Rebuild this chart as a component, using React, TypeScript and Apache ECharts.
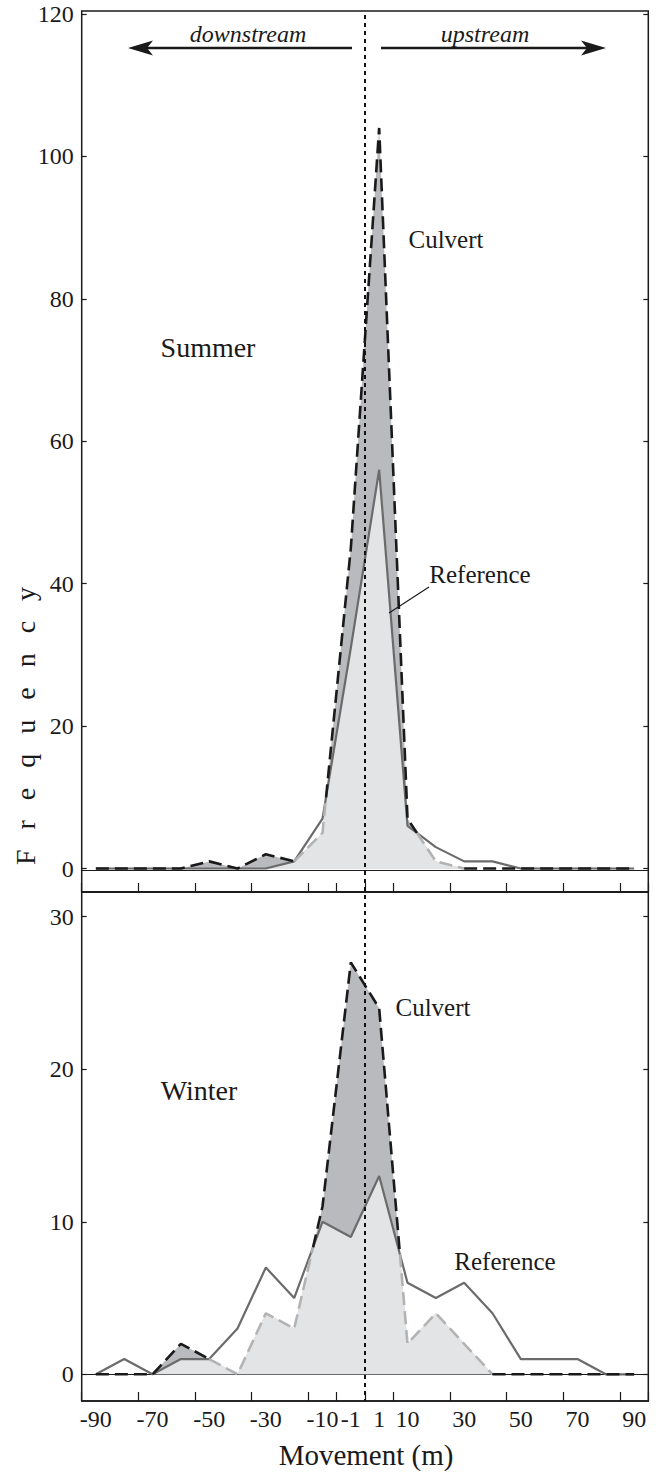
import React, { useEffect, useRef } from "react";
import * as echarts from "echarts";

// ---------- data ----------
const categories = ["-90", "-80", "-70", "-60", "-50", "-40", "-30", "-20", "-10", "-1", "1", "10", "20", "30", "40", "50", "60", "70", "80", "90"];
const shownLabels = ["-90", "-70", "-50", "-30", "-10", "-1", "1", "10", "30", "50", "70", "90"];
const summerCulvert = [0, 0, 0, 0, 1, 0, 2, 1, 5, 45, 104, 7, 1, 0, 0, 0, 0, 0, 0, 0];
const summerReference = [0, 0, 0, 0, 0, 0, 0, 1, 7, 31, 56, 6, 3, 1, 1, 0, 0, 0, 0, 0];
const winterCulvert = [0, 0, 0, 2, 1, 0, 4, 3, 11, 27, 24, 2, 4, 2, 0, 0, 0, 0, 0, 0];
const winterReference = [0, 1, 0, 1, 1, 3, 7, 5, 10, 9, 13, 6, 5, 6, 4, 1, 1, 1, 0, 0];
const summerYMax = 120;
const summerYStep = 20;
const winterYMax = 30;
const winterYStep = 10;

// ---------- layout / style ----------
const FONT = "'Liberation Serif', 'DejaVu Serif', serif";
const INK = "#1a1a1a";
const DARK = "#b9babd";
const LIGHT = "#e3e4e6";
const REF_LINE = "#6b6b6b";
const CULV_GRAY = "#b3b3b3";
const DASH = [13, 6];

const L = 81.7;
const R = 648.3;
const W = R - L;
const topFrameTop = 11;
const topY120 = 14;
const topY0 = 868.5;
const midFrame = 892;
const botY30 = 916.7;
const botY0 = 1374.3;
const botFrame = 1401;

type Pt = { x: number; c: number; r: number };

function buildPoints(c: number[], r: number[]): Pt[] {
  const pts: Pt[] = [];
  for (let i = 0; i < c.length; i++) {
    pts.push({ x: i + 0.5, c: c[i], r: r[i] });
    if (i < c.length - 1) {
      const d0 = c[i] - r[i];
      const d1 = c[i + 1] - r[i + 1];
      if (d0 * d1 < 0) {
        const t = d0 / (d0 - d1);
        pts.push({
          x: i + 0.5 + t,
          c: c[i] + t * (c[i + 1] - c[i]),
          r: r[i] + t * (r[i + 1] - r[i]),
        });
      }
    }
  }
  return pts;
}

function segmentLine(pts: Pt[], wantGray: boolean) {
  const out: any[] = [];
  let last = -2;
  for (let k = 0; k < pts.length - 1; k++) {
    const p = pts[k];
    const q = pts[k + 1];
    const cm = (p.c + q.c) / 2;
    const rm = (p.r + q.r) / 2;
    const isGray = cm < rm - 1e-9 && cm > 1e-9;
    if (isGray !== wantGray) continue;
    if (last !== k - 1) {
      if (out.length) out.push([p.x, null]);
      out.push([p.x, p.c]);
    }
    out.push([q.x, q.c]);
    last = k;
  }
  return out;
}

function panelSeries(c: number[], r: number[], xi: number, yi: number) {
  const pts = buildPoints(c, r);
  const base = { type: "line", xAxisIndex: xi, yAxisIndex: yi, symbol: "none", silent: true, clip: false };
  return [
    { ...base, data: pts.map((p) => [p.x, p.c]), lineStyle: { width: 0 }, areaStyle: { color: DARK, opacity: 1 } },
    { ...base, data: pts.map((p) => [p.x, Math.min(p.c, p.r)]), lineStyle: { width: 0 }, areaStyle: { color: LIGHT, opacity: 1 } },
    { ...base, data: pts.map((p) => [p.x, p.r]), lineStyle: { color: REF_LINE, width: 2.2 } },
    { ...base, data: segmentLine(pts, true), connectNulls: false, lineStyle: { color: CULV_GRAY, width: 2.6, type: DASH } },
    { ...base, data: segmentLine(pts, false), connectNulls: false, lineStyle: { color: INK, width: 2.6, type: DASH } },
  ];
}

function xAxesFor(grid: number, zeroOffset: number, frameOffset: number, labels: boolean) {
  return [
    { type: "value", gridIndex: grid, min: 0, max: categories.length, show: false, position: "bottom" },
    {
      type: "category", gridIndex: grid, data: categories, position: "bottom", offset: zeroOffset,
      axisLine: { show: true, onZero: false, lineStyle: { color: INK, width: 1.2 } },
      axisTick: { show: false }, axisLabel: { show: false }, splitLine: { show: false },
    },
    {
      type: "category", gridIndex: grid, data: categories, position: "bottom", offset: frameOffset,
      axisLine: { show: true, onZero: false, lineStyle: { color: INK, width: 1.5 } },
      axisTick: { show: true, inside: true, length: 9, lineStyle: { color: INK, width: 1.2 } },
      axisLabel: {
        show: labels,
        interval: (_i: number, v: string) => shownLabels.includes(v),
        fontFamily: FONT, fontSize: 24, color: INK, margin: 6,
      },
      splitLine: { show: false },
    },
  ];
}

function yAxesFor(grid: number, max: number, step: number) {
  const common = {
    type: "value", gridIndex: grid, min: 0, max, interval: step,
    axisLine: { show: false }, splitLine: { show: false },
    axisTick: { show: true, inside: true, length: 5, lineStyle: { color: INK, width: 1.2 } },
  };
  return [
    { ...common, position: "left", axisLabel: { fontFamily: FONT, fontSize: 24, color: INK, margin: 8 } },
    { ...common, position: "right", axisLabel: { show: false } },
  ];
}

function txt(text: string, x: number, y: number, size: number, extra: any = {}) {
  return {
    type: "text", x, y, z: 100, silent: true,
    style: {
      text, fontFamily: FONT, fontSize: size, fill: INK,
      textAlign: "center", textVerticalAlign: "middle", align: "center", verticalAlign: "middle",
      ...extra,
    },
  };
}

function arrowHead(tipX: number, y: number, dir: number) {
  return {
    type: "polygon", z: 100, silent: true,
    shape: { points: [[tipX, y], [tipX + dir * 25, y - 7.5], [tipX + dir * 19, y], [tipX + dir * 25, y + 7.5]] },
    style: { fill: INK },
  };
}

export default function App() {
  const ref = useRef<HTMLDivElement>(null);
  useEffect(() => {
    if (!ref.current) return;
    const chart = echarts.init(ref.current, null, { renderer: "svg" });
    const cx = L + W / 2;
    const arrowY = 48;
    const option: any = {
      animation: false,
      textStyle: { fontFamily: FONT, color: INK },
      grid: [
        { left: L, right: 656 - R, top: topY120, height: topY0 - topY120 },
        { left: L, right: 656 - R, top: botY30, height: botY0 - botY30 },
      ],
      xAxis: [
        ...xAxesFor(0, 1.5, midFrame - topY0, false),
        ...xAxesFor(1, 0, botFrame - botY0, true),
      ],
      yAxis: [...yAxesFor(0, summerYMax, summerYStep), ...yAxesFor(1, winterYMax, winterYStep)],
      series: [
        ...panelSeries(summerCulvert, summerReference, 0, 0),
        ...panelSeries(winterCulvert, winterReference, 3, 2),
      ],
      graphic: [
        { type: "rect", z: 100, silent: true, shape: { x: L, y: topFrameTop, width: W, height: midFrame - topFrameTop }, style: { fill: "none", stroke: INK, lineWidth: 1.5 } },
        { type: "rect", z: 100, silent: true, shape: { x: L, y: midFrame, width: W, height: botFrame - midFrame }, style: { fill: "none", stroke: INK, lineWidth: 1.5 } },
        { type: "line", z: 101, silent: true, shape: { x1: cx, y1: topFrameTop + 4, x2: cx, y2: botFrame }, style: { stroke: "#111", lineWidth: 2, lineDash: [4, 4] } },
        // arrows
        { type: "line", z: 100, silent: true, shape: { x1: 145, y1: arrowY, x2: 352, y2: arrowY }, style: { stroke: INK, lineWidth: 2.6 } },
        arrowHead(128, arrowY, 1),
        { type: "line", z: 100, silent: true, shape: { x1: 381, y1: arrowY, x2: 590, y2: arrowY }, style: { stroke: INK, lineWidth: 2.6 } },
        arrowHead(606, arrowY, -1),
        txt("downstream", 248, 34, 24, { fontStyle: "italic" }),
        txt("upstream", 485, 34, 24, { fontStyle: "italic" }),
        // panel annotations
        txt("Summer", 208, 347, 28),
        txt("Culvert", 446, 239, 25),
        txt("Reference", 480, 574, 25),
        { type: "line", z: 100, silent: true, shape: { x1: 429, y1: 587, x2: 389, y2: 613 }, style: { stroke: INK, lineWidth: 1.2 } },
        txt("Winter", 199, 1090, 28),
        txt("Culvert", 433, 1007, 25),
        txt("Reference", 505, 1261, 25),
        // axis titles
        txt("Movement (m)", 366, 1455, 29),
        { ...txt("Frequency", 25, 716, 28), rotation: Math.PI / 2 },
      ],
    };
    chart.setOption(option);
    const spaceOut = () => {
      const el = ref.current;
      if (!el) return;
      el.querySelectorAll("text").forEach((t) => {
        if (t.textContent === "Frequency") {
          t.setAttribute("letter-spacing", "20");
        }
      });
    };
    spaceOut();
    const raf = requestAnimationFrame(spaceOut);
    return () => {
      cancelAnimationFrame(raf);
      chart.dispose();
    };
  }, []);
  return <div ref={ref} style={{ position: "absolute", left: 0, top: 0, width: 656, height: 1475 }} />;
}
